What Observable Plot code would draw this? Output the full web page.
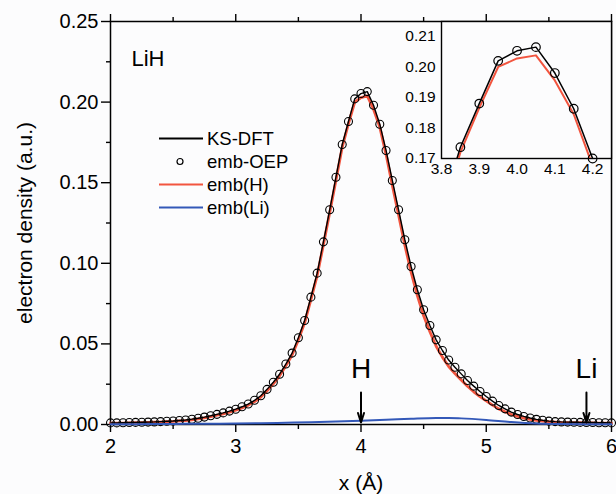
<!DOCTYPE html>
<html><head><meta charset="utf-8">
<script src="https://cdn.jsdelivr.net/npm/d3@7"></script>
<script src="https://cdn.jsdelivr.net/npm/@observablehq/plot@0.6"></script>
<style>
body{margin:0;background:#fcfcfd;}
#wrap{position:relative;width:616px;height:494px;font-family:"Liberation Sans",Arial,Helvetica,sans-serif;}
#wrap svg{overflow:visible;}
</style></head><body><div id="wrap"></div>
<script>
// ---- data ----
const xGrid = [2.00,2.05,2.10,2.15,2.20,2.25,2.30,2.35,2.40,2.45,2.50,2.55,2.60,2.65,2.70,2.75,2.80,2.85,2.90,2.95,
  3.00,3.05,3.10,3.15,3.20,3.25,3.30,3.35,3.40,3.45,3.50,3.55,3.60,3.65,3.70,3.75,3.80,3.85,3.90,3.95,
  4.00,4.05,4.10,4.15,4.20,4.25,4.30,4.35,4.40,4.45,4.50,4.55,4.60,4.65,4.70,4.75,4.80,4.85,4.90,4.95,
  5.00,5.05,5.10,5.15,5.20,5.25,5.30,5.35,5.40,5.45,5.50,5.55,5.60,5.65,5.70,5.75,5.80,5.85,5.90,5.95,6.00];
const ksDft = [0.0010,0.0010,0.0011,0.0012,0.0013,0.0014,0.0015,0.0016,0.0018,0.0020,0.0022,0.0025,0.0028,0.0033,0.0039,0.0046,0.0054,0.0063,0.0072,0.0083,
  0.0095,0.0110,0.0127,0.0150,0.0178,0.0218,0.0262,0.0312,0.0375,0.0443,0.0538,0.0645,0.0790,0.0939,0.1133,0.1332,0.1534,0.1737,0.1880,0.2020,
  0.2053,0.2065,0.1980,0.1863,0.1700,0.1514,0.1332,0.1146,0.0980,0.0836,0.0712,0.0614,0.0525,0.0459,0.0400,0.0355,0.0314,0.0273,0.0238,0.0205,
  0.0174,0.0145,0.0118,0.0097,0.0077,0.0062,0.0050,0.0040,0.0032,0.0026,0.0021,0.0018,0.0016,0.0015,0.0014,0.0013,0.0012,0.0012,0.0011,0.0011,0.0010];
const embOep = ksDft;
const embH = [0.0008,0.0008,0.0009,0.0010,0.0011,0.0012,0.0013,0.0014,0.0015,0.0017,0.0019,0.0022,0.0024,0.0029,0.0035,0.0041,0.0049,0.0058,0.0066,0.0077,
  0.0089,0.0103,0.0120,0.0142,0.0170,0.0209,0.0252,0.0302,0.0364,0.0431,0.0525,0.0631,0.0775,0.0923,0.1116,0.1314,0.1515,0.1720,0.1866,0.2000,
  0.2028,0.2038,0.1956,0.1845,0.1676,0.1484,0.1300,0.1112,0.0945,0.0800,0.0674,0.0575,0.0485,0.0418,0.0360,0.0316,0.0276,0.0237,0.0203,0.0173,
  0.0146,0.0120,0.0097,0.0079,0.0062,0.0050,0.0040,0.0032,0.0026,0.0021,0.0017,0.0015,0.0013,0.0012,0.0012,0.0011,0.0010,0.0010,0.0009,0.0009,0.0008];
const xLi = [2.0,2.2,2.4,2.6,2.8,3.0,3.2,3.4,3.6,3.8,4.0,4.2,4.4,4.6,4.7,4.8,5.0,5.2,5.4,5.6,5.8,6.0];
const embLi = [0.0002,0.0002,0.0003,0.0004,0.0005,0.0006,0.0008,0.0011,0.0014,0.0018,0.0023,0.0029,0.0036,0.0041,0.0041,0.0038,0.0028,0.0015,0.0006,0.0003,0.0002,0.0002];

const xTicks = [2,3,4,5,6];
const xMinorTicks = [2.5,3.5,4.5,5.5];
const yTicks = [0,0.05,0.10,0.15,0.20,0.25];
const yMinorTicks = [0.025,0.075,0.125,0.175,0.225];
const insetXTicks = [3.8,3.9,4.0,4.1,4.2];
const insetYTicks = [0.17,0.18,0.19,0.20,0.21];

const atomLabels = ["H","Li"];
const atomX = [4.0,5.8];
const atomLabelY = [0.0345,0.0345];
const arrowTopY = [0.0199,0.0199];
const arrowTipY = [0.0012,0.0012];

const legendLabels = ["KS-DFT","emb-OEP","emb(H)","emb(Li)"];
const legendKinds = ["line","dot","line","line"];
const legendColors = ["#000000","#000000","#f2553f","#3358b8"];

const systemLabel = ["LiH"];
const xTitle = ["x (Å)"];
const yTitle = ["electron density (a.u.)"];

// ---- tables ----
const ks = xGrid.map((x,i)=>({x, y: ksDft[i]}));
const oep = xGrid.map((x,i)=>({x, y: embOep[i]}));
const hh = xGrid.map((x,i)=>({x, y: embH[i]}));
const li = xLi.map((x,i)=>({x, y: embLi[i]}));
const atoms = atomLabels.map((label,i)=>({label, x: atomX[i], ly: atomLabelY[i], y1: arrowTopY[i], y2: arrowTipY[i]}));

const FONT = '"Liberation Sans",Arial,Helvetica,sans-serif';
const RED = legendColors[2], BLUE = legendColors[3];

const main = Plot.plot({
  width: 616, height: 494,
  marginLeft: 110, marginRight: 5, marginTop: 21, marginBottom: 70,
  style: {fontFamily: FONT, background: "transparent", color: "#000", fontSize: "20px"},
  x: {domain: [2, 6], label: null},
  y: {domain: [0, 0.25], label: null},
  marks: [
    Plot.axisX({ticks: xTicks, tickSize: 8, tickPadding: 6, tickFormat: d => String(d), label: null, fontSize: 20, strokeWidth: 1.4}),
    Plot.axisX({ticks: xMinorTicks, tickSize: 5, tickFormat: () => "", label: null, strokeWidth: 1.4}),
    Plot.axisX({anchor: "top", ticks: xTicks, tickSize: 8, tickFormat: () => "", label: null, strokeWidth: 1.4}),
    Plot.axisX({anchor: "top", ticks: xMinorTicks, tickSize: 5, tickFormat: () => "", label: null, strokeWidth: 1.4}),
    Plot.axisY({ticks: yTicks, tickSize: 9, tickPadding: 3, tickFormat: d3.format(".2f"), label: null, fontSize: 20, strokeWidth: 1.4}),
    Plot.axisY({ticks: yMinorTicks, tickSize: 4, tickFormat: () => "", label: null, strokeWidth: 1.4}),
    Plot.frame({stroke: "#000", strokeWidth: 1.5}),
    Plot.line(hh, {x: "x", y: "y", stroke: RED, strokeWidth: 2.8}),
    Plot.line(ks, {x: "x", y: "y", stroke: "#000", strokeWidth: 1.4}),
    Plot.dot(oep, {x: "x", y: "y", r: 4, stroke: "#000", strokeWidth: 1.1, fill: "none"}),
    Plot.line(li, {x: "x", y: "y", stroke: BLUE, strokeWidth: 2, curve: "monotone-x"}),
    Plot.arrow(atoms, {x1: "x", x2: "x", y1: "y1", y2: "y2", stroke: "#000", strokeWidth: 2, headLength: 9, headAngle: 35}),
    Plot.text(atoms, {x: "x", y: "ly", text: "label", fontSize: 28, lineAnchor: "middle", fill: "#000"}),
    Plot.text(systemLabel, {text: d => d, frameAnchor: "top-left", dx: 21, dy: 37, fontSize: 22, textAnchor: "start", lineAnchor: "middle"}),
    Plot.text(xTitle, {text: d => d, frameAnchor: "bottom", dy: 59, fontSize: 21, textAnchor: "middle", lineAnchor: "middle"}),
    Plot.text(yTitle, {text: d => d, frameAnchor: "left", dx: -85, rotate: -90, fontSize: 21, textAnchor: "middle", lineAnchor: "middle"})
  ]
});

const inXmin = 3.8, inXmax = 4.25, inYmin = 0.17, inYmax = 0.2149;
const inRange = d => d.x >= inXmin && d.x <= inXmax && d.y >= inYmin - 0.0005 && d.y <= inYmax;

const inset = Plot.plot({
  width: 220, height: 169,
  marginLeft: 45, marginRight: 5, marginTop: 10, marginBottom: 22,
  style: {fontFamily: FONT, background: "transparent", color: "#000", fontSize: "15.5px"},
  x: {domain: [inXmin, inXmax], label: null},
  y: {domain: [inYmin, inYmax], label: null},
  marks: [
    Plot.frame({fill: "#fcfcfd", stroke: "#000", strokeWidth: 1.4}),
    Plot.axisX({ticks: insetXTicks, tickSize: 0, tickPadding: 4, tickFormat: d3.format(".1f"), label: null, fontSize: 15.5}),
    Plot.axisY({ticks: insetYTicks, tickSize: 0, tickPadding: 6, tickFormat: d3.format(".2f"), label: null, fontSize: 15.5}),
    Plot.line(hh, {x: "x", y: "y", stroke: RED, strokeWidth: 2, clip: true}),
    Plot.line(ks, {x: "x", y: "y", stroke: "#000", strokeWidth: 1.5, clip: true}),
    Plot.dot(oep.filter(inRange), {x: "x", y: "y", r: 4.3, stroke: "#000", strokeWidth: 1.2, fill: "none"})
  ]
});

const wrap = document.getElementById("wrap");
main.style.position = "absolute"; main.style.left = "0px"; main.style.top = "0px";
inset.style.position = "absolute"; inset.style.left = "396px"; inset.style.top = "11px";
wrap.appendChild(main);
wrap.appendChild(inset);

// legend
const leg = d3.select(wrap).append("div")
  .style("position", "absolute").style("left", "155px").style("top", "127px");
legendLabels.forEach((lab, i) => {
  const row = leg.append("div").style("display", "flex").style("align-items", "center").style("height", "23px");
  const s = row.append("svg").attr("width", 52).attr("height", 23);
  if (legendKinds[i] === "line") {
    s.append("line").attr("x1", 4).attr("x2", 48).attr("y1", 11.5).attr("y2", 11.5)
      .attr("stroke", legendColors[i]).attr("stroke-width", i === 0 ? 2 : 2.2);
  } else {
    s.append("circle").attr("cx", 25).attr("cy", 11.5).attr("r", 3).attr("fill", "none")
      .attr("stroke", legendColors[i]).attr("stroke-width", 1.2);
  }
  row.append("span").text(lab).style("font-size", "18.5px").style("color", "#000").style("line-height", "23px");
});
</script>
</body></html>
